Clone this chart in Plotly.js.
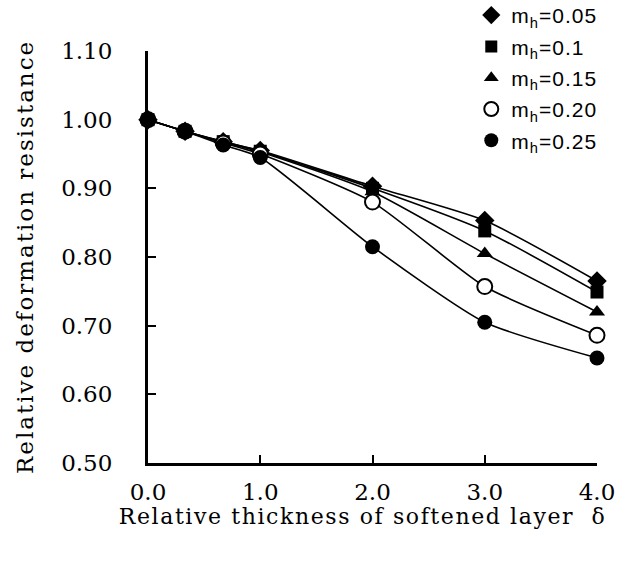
<!DOCTYPE html>
<html>
<head>
<meta charset="utf-8">
<script src="https://cdn.plot.ly/plotly-3.0.1.min.js"></script>
<style>html,body{margin:0;padding:0;background:#fff;}#chart{width:629px;height:564px;}
.legendtext{letter-spacing:1px;}</style>
</head>
<body>
<div id="chart"></div>
<script>
var delta = [0, 0.33, 0.67, 1.0, 2.0, 3.0, 4.0];
var seriesNames = ["m<sub>h</sub>=0.05", "m<sub>h</sub>=0.1", "m<sub>h</sub>=0.15", "m<sub>h</sub>=0.20", "m<sub>h</sub>=0.25"];
var mh005 = [1.000, 0.983, 0.968, 0.955, 0.903, 0.853, 0.765];
var mh010 = [1.000, 0.983, 0.968, 0.954, 0.900, 0.838, 0.749];
var mh015 = [1.000, 0.983, 0.967, 0.953, 0.895, 0.805, 0.720];
var mh020 = [1.000, 0.983, 0.966, 0.950, 0.880, 0.757, 0.686];
var mh025 = [1.000, 0.983, 0.963, 0.945, 0.815, 0.705, 0.653];
var xTickVals = [0, 1, 2, 3, 4];
var xTickText = ["0.0", "1.0", "2.0", "3.0", "4.0"];
var yTickVals = [0.5, 0.6, 0.7, 0.8, 0.9, 1.0, 1.1];
var yTickText = ["0.50", "0.60", "0.70", "0.80", "0.90", "1.00", "1.10"];
var xTitle = "Relative thickness of softened layer  δ";
var yTitle = "Relative deformation resistance";

var allSeries = [mh005, mh010, mh015, mh020, mh025];
var symbols = ["diamond", "square", "triangle-up", "circle", "circle"];
var sizes = [15, 13, 14, 15, 15];
var fills = ["#000", "#000", "#000", "#fff", "#000"];
var outline = [0, 0, 0, 2, 0];

var traces = [];
allSeries.forEach(function (ys, i) {
  traces.push({
    x: delta, y: ys, type: "scatter", mode: "lines+markers",
    line: {color: "#000", width: 1.6, shape: "spline", smoothing: 0.6},
    marker: {symbol: symbols[i], size: sizes[i], color: fills[i], line: {color: "#000", width: outline[i]}},
    cliponaxis: false, showlegend: false, hoverinfo: "skip"
  });
});
allSeries.forEach(function (ys, i) {
  traces.push({
    x: [null], y: [null], type: "scatter", mode: "markers", name: seriesNames[i],
    legendgroup: "g" + i,
    marker: {symbol: symbols[i], size: sizes[i] - 1, color: fills[i], line: {color: "#000", width: outline[i]}},
    showlegend: true
  });
});

var serif = "DejaVu Serif, serif";
var layout = {
  width: 629, height: 564,
  margin: {l: 148, r: 32, t: 51, b: 101, autoexpand: false},
  paper_bgcolor: "#fff", plot_bgcolor: "#fff",
  showlegend: true,
  legend: {x: 0.72, y: 1.136, xanchor: "left", yanchor: "top", bgcolor: "rgba(0,0,0,0)",
    font: {family: "Liberation Sans, Arial, sans-serif", size: 21, color: "#000"}, tracegroupgap: 1, itemwidth: 30},
  xaxis: {
    range: [0, 4], tickvals: xTickVals, ticktext: xTickText,
    showgrid: false, zeroline: false, showline: true, linecolor: "#000", linewidth: 3,
    ticks: "inside", ticklen: 8, tickwidth: 2, tickcolor: "#000",
    ticklabelstandoff: 6,
    tickfont: {family: serif, size: 23, color: "#000"}
  },
  yaxis: {
    range: [0.5, 1.1], tickvals: yTickVals, ticktext: yTickText,
    showgrid: false, zeroline: false, showline: true, linecolor: "#000", linewidth: 3,
    ticks: "inside", ticklen: 8, tickwidth: 2, tickcolor: "#000",
    ticklabelstandoff: 28,
    tickfont: {family: serif, size: 23, color: "#000"}
  },
  annotations: [
    {text: xTitle, xref: "paper", yref: "paper", x: 0.477, y: -0.131, xanchor: "center", yanchor: "middle",
     showarrow: false, font: {family: serif, size: 22, color: "#000"}},
    {text: yTitle, xref: "paper", yref: "paper", x: -0.274, y: 0.5, xanchor: "center", yanchor: "middle",
     textangle: -90, showarrow: false, font: {family: serif, size: 23, color: "#000"}}
  ]
};
Plotly.newPlot("chart", traces, layout, {displayModeBar: false, staticPlot: true}).then(function (gd) {
  var ann = gd.querySelectorAll(".annotation-text");
  if (ann[0]) ann[0].style.letterSpacing = "1.6px";
  if (ann[1]) ann[1].style.letterSpacing = "2px";
});
</script>
</body>
</html>
